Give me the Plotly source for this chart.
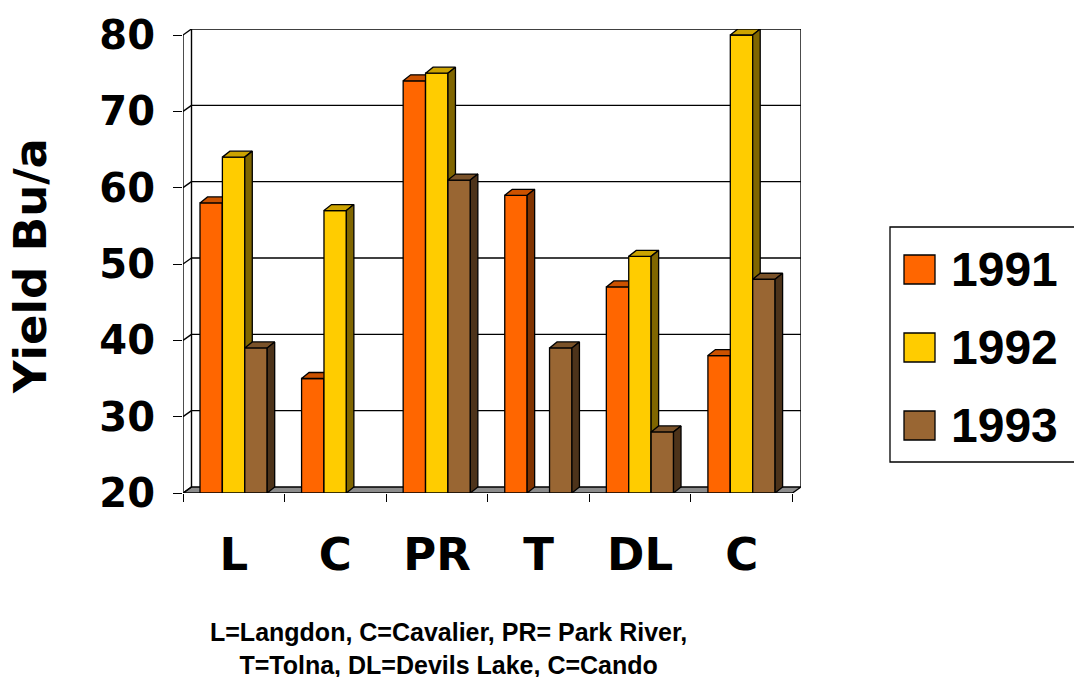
import plotly.graph_objects as go

# ---- data -------------------------------------------------------------
sites = ["L", "C", "PR", "T", "DL", "C"]
years = ["1991", "1992", "1993"]
yield_1991 = [58, 35, 74, 59, 47, 38]
yield_1992 = [64, 57, 75, None, 51, 80]
yield_1993 = [39, None, 61, 39, 28, 48]
y_ticks = [20, 30, 40, 50, 60, 70, 80]
caption = "L=Langdon, C=Cavalier, PR= Park River,<br>T=Tolna, DL=Devils Lake, C=Cando"

series = [yield_1991, yield_1992, yield_1993]

# ---- styling ----------------------------------------------------------
# front / top / side face colours per year
face_colors = [
    ("#FF6600", "#CC5200", "#803300"),
    ("#FFCC00", "#CCA300", "#806600"),
    ("#996633", "#7A5229", "#4D331A"),
]
HEAVY = "DejaVu Sans"
PLAIN = "Liberation Sans"
Y_MIN, Y_MAX = y_ticks[0], y_ticks[-1]

# pixel geometry of the pseudo-3D box, converted to axis units
PX_PER_CAT = 101.6
PX_PER_VAL = 458 / 60
WALL_DX, WALL_DY = 8.5 / PX_PER_CAT, 6 / PX_PER_VAL
BAR_DX, BAR_DY = 7.5 / PX_PER_CAT, 6 / PX_PER_VAL
BAR_OFF, BAR_W = 17 / PX_PER_CAT, 22.4 / PX_PER_CAT
n_cat = len(sites)

fig = go.Figure()


def face(xs, ys, color):
    fig.add_trace(go.Scatter(
        x=xs + [xs[0]], y=ys + [ys[0]], mode="lines", fill="toself",
        fillcolor=color, line=dict(color="black", width=1.3),
        showlegend=False, hoverinfo="skip", cliponaxis=False,
    ))


# bars: front face, top face, right-hand side face
for i in range(n_cat):
    for j, vals in enumerate(series):
        v = vals[i]
        if v is None:
            continue
        front, top, side = face_colors[j]
        xl = i + BAR_OFF + j * BAR_W
        xr = xl + BAR_W
        face([xl, xr, xr, xl], [Y_MIN, Y_MIN, v, v], front)
        face([xl, xr, xr + BAR_DX, xl + BAR_DX], [v, v, v + BAR_DY, v + BAR_DY], top)
        face([xr, xr + BAR_DX, xr + BAR_DX, xr],
             [Y_MIN, Y_MIN + BAR_DY, v + BAR_DY, v], side)

# walls, floor and gridlines
shapes = []
line_style = dict(color="black", width=1.4)
shapes.append(dict(
    type="path", xref="x", yref="y", layer="below",
    path=(f"M0,{Y_MIN} L{n_cat},{Y_MIN} L{n_cat + WALL_DX},{Y_MIN + WALL_DY} "
          f"L{WALL_DX},{Y_MIN + WALL_DY} Z"),
    fillcolor="#8C8C8C", line=line_style,
))
for t in y_ticks[1:]:
    shapes.append(dict(type="line", xref="x", yref="y", layer="below",
                       x0=WALL_DX, x1=n_cat + WALL_DX, y0=t + WALL_DY, y1=t + WALL_DY,
                       line=line_style))
for t in y_ticks:
    shapes.append(dict(type="line", xref="x", yref="y", layer="below",
                       x0=0, x1=WALL_DX, y0=t, y1=t + WALL_DY, line=line_style))
# back wall verticals and front value axis
for xv, y0, y1 in [(WALL_DX, Y_MIN + WALL_DY, Y_MAX + WALL_DY),
                   (n_cat + WALL_DX, Y_MIN + WALL_DY, Y_MAX + WALL_DY),
                   (0, Y_MIN, Y_MAX)]:
    shapes.append(dict(type="line", xref="x", yref="y", layer="below",
                       x0=xv, x1=xv, y0=y0, y1=y1, line=line_style))

# legend box with swatches
PLOT_H = 464
def py(pixel_y):
    return (493 - pixel_y) / PLOT_H
def px(pixel_x):
    return (pixel_x - 183) / 618

shapes.append(dict(type="rect", xref="paper", yref="paper",
                   x0=px(890), x1=px(1090), y0=py(462), y1=py(227),
                   line=dict(color="black", width=1.3), fillcolor="rgba(0,0,0,0)"))
annotations = []
for k, yr in enumerate(years):
    top_px = 255 + k * 78
    shapes.append(dict(type="rect", xref="paper", yref="paper",
                       x0=px(904), x1=px(935), y0=py(top_px + 29), y1=py(top_px),
                       fillcolor=face_colors[k][0], line=dict(color="black", width=1.3)))
    annotations.append(dict(
        text=yr, xref="paper", yref="paper", x=px(949), y=py(top_px + 14),
        xanchor="left", yanchor="middle", showarrow=False,
        font=dict(family=PLAIN, size=48, color="black", weight="bold"),
    ))

# value-axis title
annotations.append(dict(
    text="Yield Bu/a", xref="paper", yref="paper", x=px(30), y=py(266),
    xanchor="center", yanchor="middle", textangle=-90, showarrow=False,
    font=dict(family=HEAVY, size=45, color="black", weight="bold"),
))
# site key under the chart
annotations.append(dict(
    text=caption, xref="paper", yref="paper", x=px(448), y=py(648),
    xanchor="center", yanchor="middle", showarrow=False,
    font=dict(family=PLAIN, size=25, color="black", weight="bold"),
))

fig.update_layout(
    width=1074, height=677, autosize=False,
    margin=dict(l=183, r=273, t=29, b=184),
    paper_bgcolor="white", plot_bgcolor="white",
    shapes=shapes, annotations=annotations, showlegend=False,
    xaxis=dict(
        range=[0, n_cat + WALL_DX], showgrid=False, zeroline=False, showline=False,
        tickvals=[i + 0.5 for i in range(n_cat)], ticktext=sites, ticks="",
        ticklabelstandoff=31,
        tickfont=dict(family=HEAVY, size=45, color="black", weight="bold"),
        minor=dict(tickvals=list(range(n_cat + 1)), ticks="outside", ticklen=8,
                   tickwidth=1.3, tickcolor="black", showgrid=False),
        fixedrange=True,
    ),
    yaxis=dict(
        range=[Y_MIN, Y_MAX + WALL_DY], showgrid=False, zeroline=False, showline=False,
        tickvals=y_ticks, ticks="outside", ticklen=9, tickwidth=1.3, tickcolor="black",
        ticklabelstandoff=10,
        tickfont=dict(family=HEAVY, size=40, color="black", weight="bold"),
        fixedrange=True,
    ),
)

fig.write_html("out.html")
